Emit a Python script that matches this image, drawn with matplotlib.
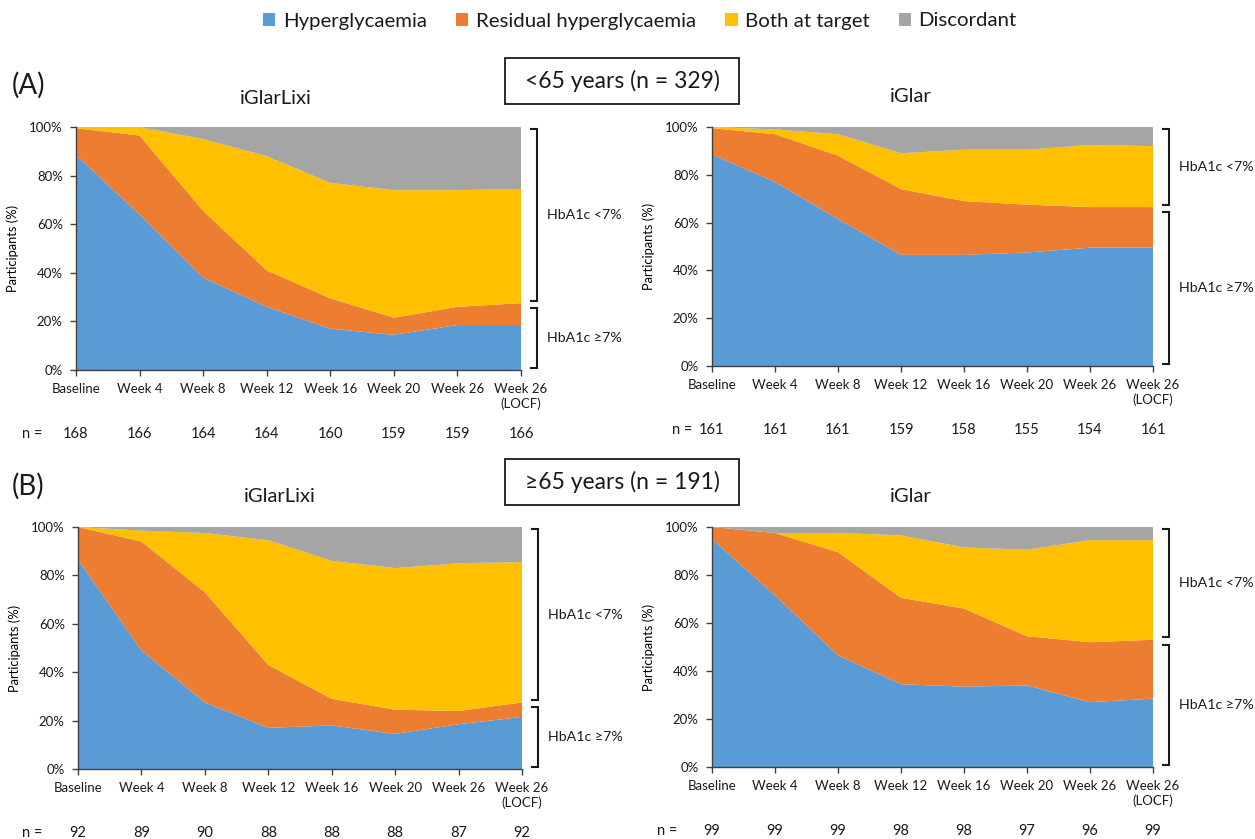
import matplotlib
matplotlib.use('Agg')
import matplotlib.pyplot as plt
from matplotlib.patches import Patch, Rectangle
from matplotlib.transforms import blended_transform_factory

plt.rcParams['font.family'] = ['Lato', 'DejaVu Sans']
plt.rcParams['text.color'] = '#1a1a1a'

# categories / legend
weeks = ['Baseline', 'Week 4', 'Week 8', 'Week 12', 'Week 16', 'Week 20', 'Week 26', 'Week 26\n(LOCF)']
groups = ['Hyperglycaemia', 'Residual hyperglycaemia', 'Both at target', 'Discordant']
colors = ['#5B9BD5', '#ED7D31', '#FFC000', '#A5A5A5']

# (A) <65 years, iGlarLixi
a_lixi_hyper = [88.5, 64, 38, 26, 17, 14.5, 18.5, 18.5]
a_lixi_resid = [11, 32.5, 27.5, 15, 12.5, 7, 7.5, 9]
a_lixi_both = [0.5, 3.5, 29.5, 47, 47.5, 52.5, 48, 47]
a_lixi_disc = [0, 0, 5, 12, 23, 26, 26, 25.5]
a_lixi_n = [168, 166, 164, 164, 160, 159, 159, 166]

# (A) <65 years, iGlar
a_glar_hyper = [88.5, 77, 61.5, 46.5, 46.5, 47.5, 49.5, 49.5]
a_glar_resid = [11, 20, 26.5, 27.5, 22.5, 20, 17, 17]
a_glar_both = [0.5, 2, 9, 15, 21.5, 23, 26, 25.5]
a_glar_disc = [0, 1, 3, 11, 9.5, 9.5, 7.5, 8]
a_glar_n = [161, 161, 161, 159, 158, 155, 154, 161]

# (B) >=65 years, iGlarLixi
b_lixi_hyper = [86.5, 49, 27.5, 17, 18, 14.5, 18.5, 21.5]
b_lixi_resid = [13.5, 45, 45.5, 26, 11, 10, 5.5, 6]
b_lixi_both = [0, 4.5, 24.5, 51.5, 57, 58.5, 61, 58]
b_lixi_disc = [0, 1.5, 2.5, 5.5, 14, 17, 15, 14.5]
b_lixi_n = [92, 89, 90, 88, 88, 88, 87, 92]

# (B) >=65 years, iGlar
b_glar_hyper = [95, 71.5, 46.5, 34.5, 33.5, 34, 27, 28.5]
b_glar_resid = [5, 26, 43, 36, 32.5, 20.5, 25, 24.5]
b_glar_both = [0, 0, 8, 26, 25.5, 36, 42.5, 41.5]
b_glar_disc = [0, 2.5, 2.5, 3.5, 8.5, 9.5, 5.5, 5.5]
b_glar_n = [99, 99, 99, 98, 98, 97, 96, 99]

W, H = 1255, 839
fig = plt.figure(figsize=(W / 100, H / 100), dpi=100)


def fx(px):
    return px / W


def fy(py):
    return 1 - py / H


def panel(box, title, title_xy, layers, n, n_x):
    l, t, r, b = box
    aw = r - l
    ax = fig.add_axes([fx(l), fy(b), aw / W, (b - t) / H])
    x = list(range(len(weeks)))
    ax.stackplot(x, *layers, colors=colors, lw=0)
    ax.set_xlim(0, len(weeks) - 1)
    ax.set_ylim(0, 100)
    ax.set_xticks(x)
    ax.set_xticklabels(weeks, fontsize=9.5)
    ax.set_yticks(range(0, 101, 20))
    ax.set_yticklabels([f'{v}%' for v in range(0, 101, 20)], fontsize=9.5)
    ax.tick_params(length=4.5, width=1, color='#404040', labelcolor='#1a1a1a', pad=5)
    for s in ['top', 'right']:
        ax.spines[s].set_visible(False)
    for s in ['left', 'bottom']:
        ax.spines[s].set_color('#404040')
        ax.spines[s].set_linewidth(1)
    ax.set_ylabel('Participants (%)', fontsize=9.3)
    ax.yaxis.set_label_coords(-57 / aw, 0.5)

    # n = row
    for i, v in enumerate(n):
        ax.annotate(str(v), xy=(i, 0), xycoords=('data', 'axes fraction'),
                    xytext=(0, -64 * 0.72), textcoords='offset points',
                    ha='center', va='center', fontsize=10.5)
    fig.text(fx(n_x), fy(b + 64), 'n =', ha='center', va='center', fontsize=10.5)

    # HbA1c brackets, split at the last time point
    split = layers[0][-1] + layers[1][-1]
    tr = blended_transform_factory(ax.transAxes, ax.transData)
    x0, x1 = 1 + 10 / aw, 1 + 16 / aw
    for top, bot, lab in [(99, split + 1, 'HbA1c <7%'), (split - 2, 1, 'HbA1c ≥7%')]:
        ax.plot([x0, x1, x1, x0], [top, top, bot, bot], transform=tr, clip_on=False,
                color='#1a1a1a', lw=1.5, solid_joinstyle='miter')
        ax.text(1 + 26 / aw, (top + bot) / 2, lab, transform=tr, ha='left', va='center',
                fontsize=10.2)

    fig.text(fx(title_xy[0]), fy(title_xy[1]), title, ha='center', va='center', fontsize=14.5)
    return ax


panel((76, 127, 521, 370), 'iGlarLixi', (276, 99),
      [a_lixi_hyper, a_lixi_resid, a_lixi_both, a_lixi_disc], a_lixi_n, 32)
panel((712, 127, 1153, 366), 'iGlar', (911, 97),
      [a_glar_hyper, a_glar_resid, a_glar_both, a_glar_disc], a_glar_n, 682)
panel((78, 527, 522, 769), 'iGlarLixi', (280, 497),
      [b_lixi_hyper, b_lixi_resid, b_lixi_both, b_lixi_disc], b_lixi_n, 32)
panel((712, 527, 1153, 767), 'iGlar', (911, 497),
      [b_glar_hyper, b_glar_resid, b_glar_both, b_glar_disc], b_glar_n, 667)

# panel labels and age boxes
for lab, y in [('(A)', 85), ('(B)', 486)]:
    fig.text(fx(28), fy(y), lab, ha='center', va='center', fontsize=20)
for txt, top in [('<65 years (n = 329)', 58), ('≥65 years (n = 191)', 459)]:
    fig.add_artist(Rectangle((fx(505), fy(top + 46)), 234 / W, 46 / H, transform=fig.transFigure,
                             fill=False, ec='#1a1a1a', lw=1.3))
    fig.text(fx(622), fy(top + 23), txt, ha='center', va='center', fontsize=16.5)

handles = [Patch(fc=c, ec='none', label=g) for c, g in zip(colors, groups)]
fig.legend(handles=handles, loc='center', bbox_to_anchor=(fx(640), fy(21)), ncol=4,
           frameon=False, fontsize=14.7, handlelength=0.6, handleheight=0.6,
           handletextpad=0.35, columnspacing=1.45)

fig.savefig('out.png', dpi=100)
